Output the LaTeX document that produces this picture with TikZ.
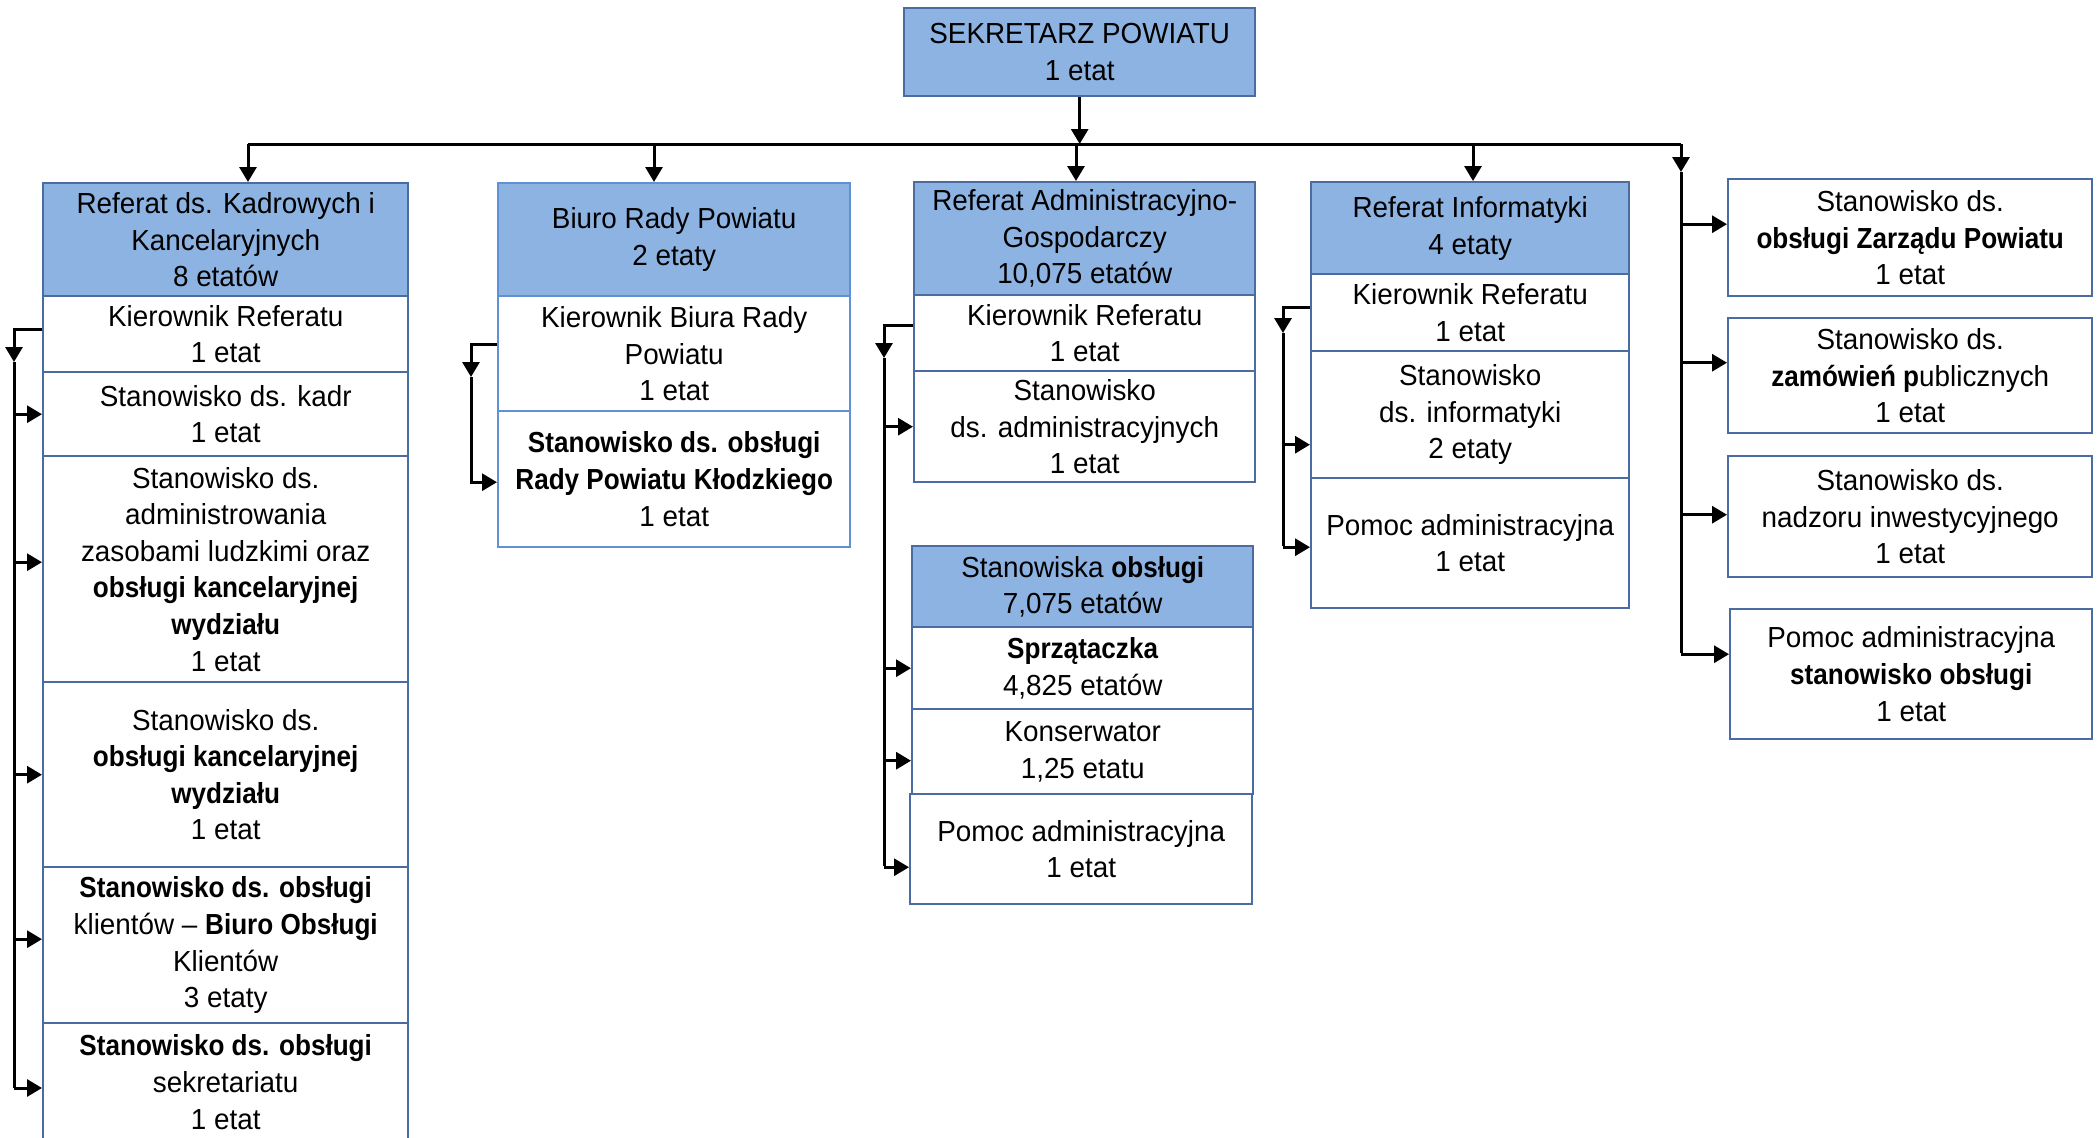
\documentclass[tikz,border=0pt]{standalone}
\usepackage{fontspec}
\setmainfont{Liberation Sans}[FakeStretch=0.96,BoldFeatures={FakeStretch=0.9}]
\usetikzlibrary{arrows.meta,positioning}
\definecolor{hdrblue}{RGB}{141,179,226}
\definecolor{framea}{RGB}{74,108,160}
\definecolor{frameb}{RGB}{95,145,212}

\begin{document}
\begin{tikzpicture}
	[x=0.5pt,y=-0.5pt,>={Triangle[width=8.5pt,length=7.5pt]},
	box/.style={draw=framea,line width=1.2pt,fill=white,anchor=north west,align=center,inner sep=0pt,font=\fontsize{14.5}{18.3}\selectfont},
	head/.style={box,fill=hdrblue},
	sz/.style 2 args={minimum width=#1*0.5pt,minimum height=#2*0.5pt},
	conn/.style={line width=1.5pt}]
	\clip (0,0) rectangle (2098,1137);
	
	\node [head,sz={351}{88}] (t0) at (903,7) {SEKRETARZ POWIATU\\1 etat};
	
	% referat kadrowy
	\node [head,sz={365}{113}] (k0) at (42,182) {Referat ds. Kadrowych i\\Kancelaryjnych\\8 etatów};
	\node [box,sz={365}{76}] (k1) at (42,295) {Kierownik Referatu\\1 etat};
	\node [box,sz={365}{84}] (k2) at (42,371) {Stanowisko ds. kadr\\1 etat};
	\node [box,sz={365}{226}] (k3) at (42,455) {Stanowisko ds.\\administrowania\\zasobami ludzkimi oraz\\\textbf{obsługi kancelaryjnej}\\\textbf{wydziału}\\1 etat};
	\node [box,sz={365}{185}] (k4) at (42,681) {Stanowisko ds.\\\textbf{obsługi kancelaryjnej}\\\textbf{wydziału}\\1 etat};
	\node [box,sz={365}{156}] (k5) at (42,866) {\textbf{Stanowisko ds. obsługi}\\klientów – \textbf{Biuro Obsługi}\\Klientów\\3 etaty};
	\node [box,sz={365}{118}] (k6) at (42,1022) {\textbf{Stanowisko ds. obsługi}\\sekretariatu\\1 etat};
	
	% biuro rady
	\node [head,draw=frameb,sz={352}{113}] (b0) at (497,182) {Biuro Rady Powiatu\\2 etaty};
	\node [box,draw=frameb,sz={352}{115}] (b1) at (497,295) {Kierownik Biura Rady\\Powiatu\\1 etat};
	\node [box,draw=frameb,sz={352}{136}] (b2) at (497,410) {\textbf{Stanowisko ds. obsługi}\\\textbf{Rady Powiatu Kłodzkiego}\\1 etat};
	
	% referat administracyjno-gospodarczy
	\node [head,sz={341}{113}] (a0) at (913,181) {Referat Administracyjno-\\Gospodarczy\\10,075 etatów};
	\node [box,sz={341}{76}] (a1) at (913,294) {Kierownik Referatu\\1 etat};
	\node [box,sz={341}{111}] (a2) at (913,370) {Stanowisko\\ds. administracyjnych\\1 etat};
	\node [head,sz={341}{81}] (s0) at (911,545) {Stanowiska \textbf{obsługi}\\7,075 etatów};
	\node [box,sz={341}{82}] (s1) at (911,626) {\textbf{Sprzątaczka}\\4,825 etatów};
	\node [box,sz={341}{85}] (s2) at (911,708) {Konserwator\\1,25 etatu};
	\node [box,sz={342}{110}] (s3) at (909,793) {Pomoc administracyjna\\1 etat};
	
	% informatyka
	\node [head,sz={318}{92}] (i0) at (1310,181) {Referat Informatyki\\4 etaty};
	\node [box,sz={318}{77}] (i1) at (1310,273) {Kierownik Referatu\\1 etat};
	\node [box,sz={318}{127}] (i2) at (1310,350) {Stanowisko\\ds. informatyki\\2 etaty};
	\node [box,sz={318}{130}] (i3) at (1310,477) {Pomoc administracyjna\\1 etat};
	
	% stanowiska samodzielne
	\node [box,sz={364}{117}] (z1) at (1727,178) {Stanowisko ds.\\\textbf{obsługi Zarządu Powiatu}\\1 etat};
	\node [box,sz={364}{115}] (z2) at (1727,317) {Stanowisko ds.\\\textbf{zamówień p}ublicznych\\1 etat};
	\node [box,sz={364}{121}] (z3) at (1727,455) {Stanowisko ds.\\nadzoru inwestycyjnego\\1 etat};
	\node [box,sz={362}{130}] (z4) at (1729,608) {Pomoc administracyjna\\\textbf{stanowisko obsługi}\\1 etat};
	
	% szyna
	\coordinate (bus-l) at (248,144);
	\coordinate (bus-r) at (1681,144);
	\draw[conn] (bus-l) -- (bus-r);
	\draw[conn,->] (t0.south) -- (t0.south |- bus-l);
	\foreach \n/\x in {k0/248,b0/654,a0/1076,i0/1473}
	{
		\coordinate (d) at (\x,144);
		\draw[conn,->] (d) -- (d |- \n.north);
	}
	
	% kolumna 1
	\coordinate (k-top) at (14,362);
	\coordinate (k-bot) at (14,1088);
	\draw[conn,->] ([yshift=2.5pt]k1.west) -| (k-top);
	\draw[conn] (k-top) -- (k-bot);
	\foreach \n/\s in {k2/0,k3/3.5,k4/0,k5/3}
	{
		\path ([yshift=\s pt]\n.west) coordinate (p);
		\draw[conn,->] (k-top |- p) -- (p);
	}
	\draw[conn,->] (k-bot) -- (k-bot -| k6.west);
	
	% kolumna 2
	\coordinate (b-top) at (471,377);
	\draw[conn,->] ([yshift=4.5pt]b1.west) -| (b-top);
	\draw[conn,->] (b-top) |- ([yshift=-1.5pt]b2.west);
	
	% kolumna 3
	\coordinate (a-top) at (884,358);
	\coordinate (a-bot) at (884,866);
	\draw[conn,->] ([yshift=4pt]a1.west) -| (a-top);
	\draw[conn] (a-top) -- (a-bot);
	\foreach \n/\s in {a2/0,s1/0,s2/-4.5,s3/-9}
	{
		\path ([yshift=\s pt]\n.west) coordinate (p);
		\draw[conn,->] (a-top |- p) -- (p);
	}
	
	% kolumna 4
	\coordinate (i-top) at (1283,333);
	\coordinate (i-bot) at (1283,546);
	\draw[conn,->] ([yshift=2.5pt]i1.west) -| (i-top);
	\draw[conn] (i-top) -- (i-bot);
	\foreach \n/\s in {i2/-15,i3/-2}
	{
		\path ([yshift=\s pt]\n.west) coordinate (p);
		\draw[conn,->] (i-top |- p) -- (p);
	}
	
	% kolumna 5
	\coordinate (z-top) at (1681,172);
	\coordinate (z-bot) at (1681,653);
	\draw[conn,->] (bus-r) -- (z-top);
	\draw[conn] (z-top) -- (z-bot);
	\foreach \n/\s in {z1/6.75,z2/6.5,z3/1,z4/10}
	{
		\path ([yshift=\s pt]\n.west) coordinate (p);
		\draw[conn,->] (z-top |- p) -- (p);
	}
	
\end{tikzpicture}
\end{document}
